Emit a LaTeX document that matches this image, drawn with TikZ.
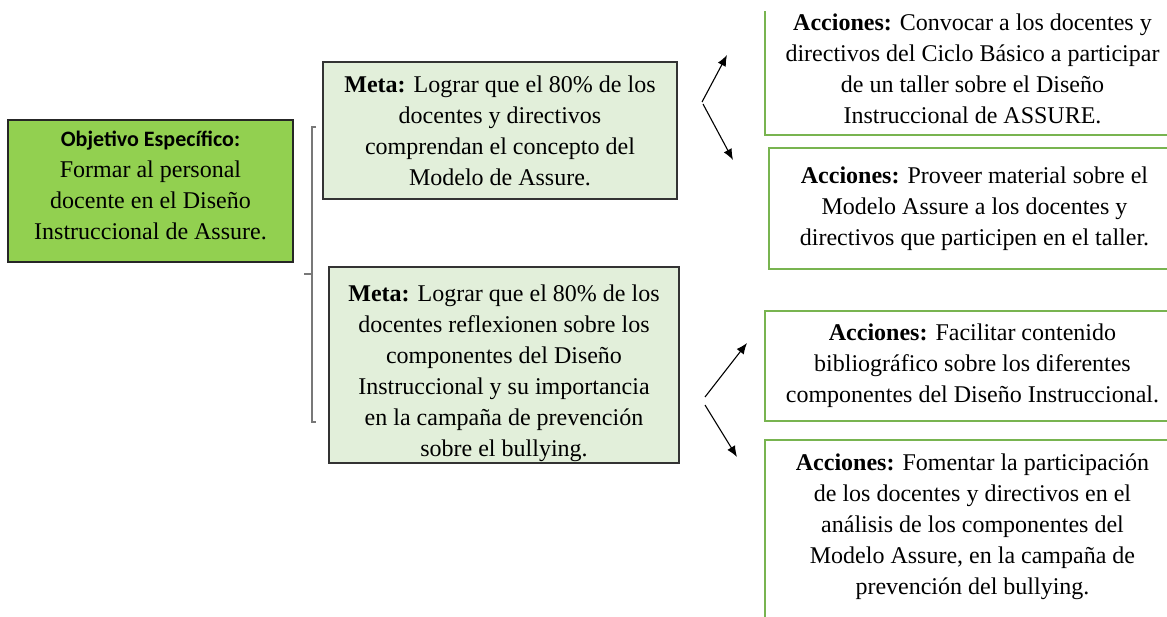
\documentclass[tikz,border=0pt]{standalone}
\usepackage{fontspec}
\setmainfont{Liberation Serif}
\newfontfamily\carlito{Carlito}
\usetikzlibrary{arrows.meta}
\definecolor{objgreen}{RGB}{146,208,80}
\definecolor{metagreen}{RGB}{226,239,218}
\definecolor{actgreen}{RGB}{120,180,80}
\definecolor{brackgray}{RGB}{120,120,120}
\tikzset{
  txt/.style={align=center, font=\fontsize{24}{31}\selectfont, inner sep=0pt},
  objbox/.style={txt, draw=black!85, fill=objgreen, line width=1.3pt},
  metabox/.style={txt, draw=black!80, fill=metagreen, line width=1.3pt},
  actbox/.style={txt, draw=actgreen, line width=1.3pt},
  conn/.style={line width=1.1pt, -{Latex[length=11pt,width=9pt]}},
  brack/.style={draw=brackgray, line width=2pt}
}
\begin{document}
\begin{tikzpicture}[x=1pt,y=-1pt]
\clip (0,0) rectangle (1167,616);
\fill[white] (0,0) rectangle (1167,616);

\node[objbox, minimum width=285pt, minimum height=142pt] (obj) at (150.5,191)
  {{\carlito\bfseries\fontsize{22}{24}\selectfont Objetivo Específico:}\\Formar al personal\\docente en el Diseño\\Instruccional de Assure.\rule[-11pt]{0pt}{1pt}};

\node[metabox, minimum width=354pt, minimum height=137pt] (meta1) at (500,130.5)
  {\textbf{Meta:} Lograr que el 80\% de los\\docentes y directivos\\comprendan el concepto del\\Modelo de Assure.};

\node[metabox, minimum width=350pt, minimum height=196pt] (meta2) at (504,365)
  {\rule{0pt}{33pt}\textbf{Meta:} Lograr que el 80\% de los\\docentes reflexionen sobre los\\componentes del Diseño\\Instruccional y su importancia\\en la campaña de prevención\\sobre el bullying.};

\node[actbox, minimum width=415pt, minimum height=150pt] (act1) at (972.5,60)
  {\rule{0pt}{35pt}\textbf{Acciones:} Convocar a los docentes y\\directivos del Ciclo Básico a participar\\de un taller sobre el Diseño\\Instruccional de ASSURE.};

\node[actbox, minimum width=411pt, minimum height=121pt] (act2) at (974.5,208.5)
  {\textbf{Acciones:} Proveer material sobre el\\Modelo Assure a los docentes y\\directivos que participen en el taller.};

\node[actbox, minimum width=415pt, minimum height=110pt] (act3) at (972.5,366)
  {\textbf{Acciones:} Facilitar contenido\\bibliográfico sobre los diferentes\\componentes del Diseño Instruccional.};

\node[actbox, minimum width=415pt, minimum height=200pt, text depth=32pt] (act4) at (972.5,540)
  {\textbf{Acciones:} Fomentar la participación\\de los docentes y directivos en el\\análisis de los componentes del\\Modelo Assure, en la campaña de\\prevención del bullying.};

% top of the first action box is cut off
\fill[white] (740,0) rectangle (1167,11);

% bracket
\coordinate (bt) at (312,127);
\coordinate (bb) at (312,422);
\coordinate (bm) at (312,274);
\draw[brack] ([xshift=4pt]bt) -- (bt) -- (bb) -- ([xshift=4pt]bb);
\draw[brack] (bm) -- ([xshift=-8pt]bm);

% arrows
\coordinate (s1a) at (702,102);
\coordinate (s1b) at (703,104);
\coordinate (e1a) at (727,55);
\coordinate (e1b) at (733,160);
\coordinate (s2a) at (705,397);
\coordinate (s2b) at (705,405);
\coordinate (e2a) at (747,343);
\coordinate (e2b) at (737,457);
\draw[conn] (s1a) -- (e1a);
\draw[conn] (s1b) -- (e1b);
\draw[conn] (s2a) -- (e2a);
\draw[conn] (s2b) -- (e2b);
\end{tikzpicture}
\end{document}
